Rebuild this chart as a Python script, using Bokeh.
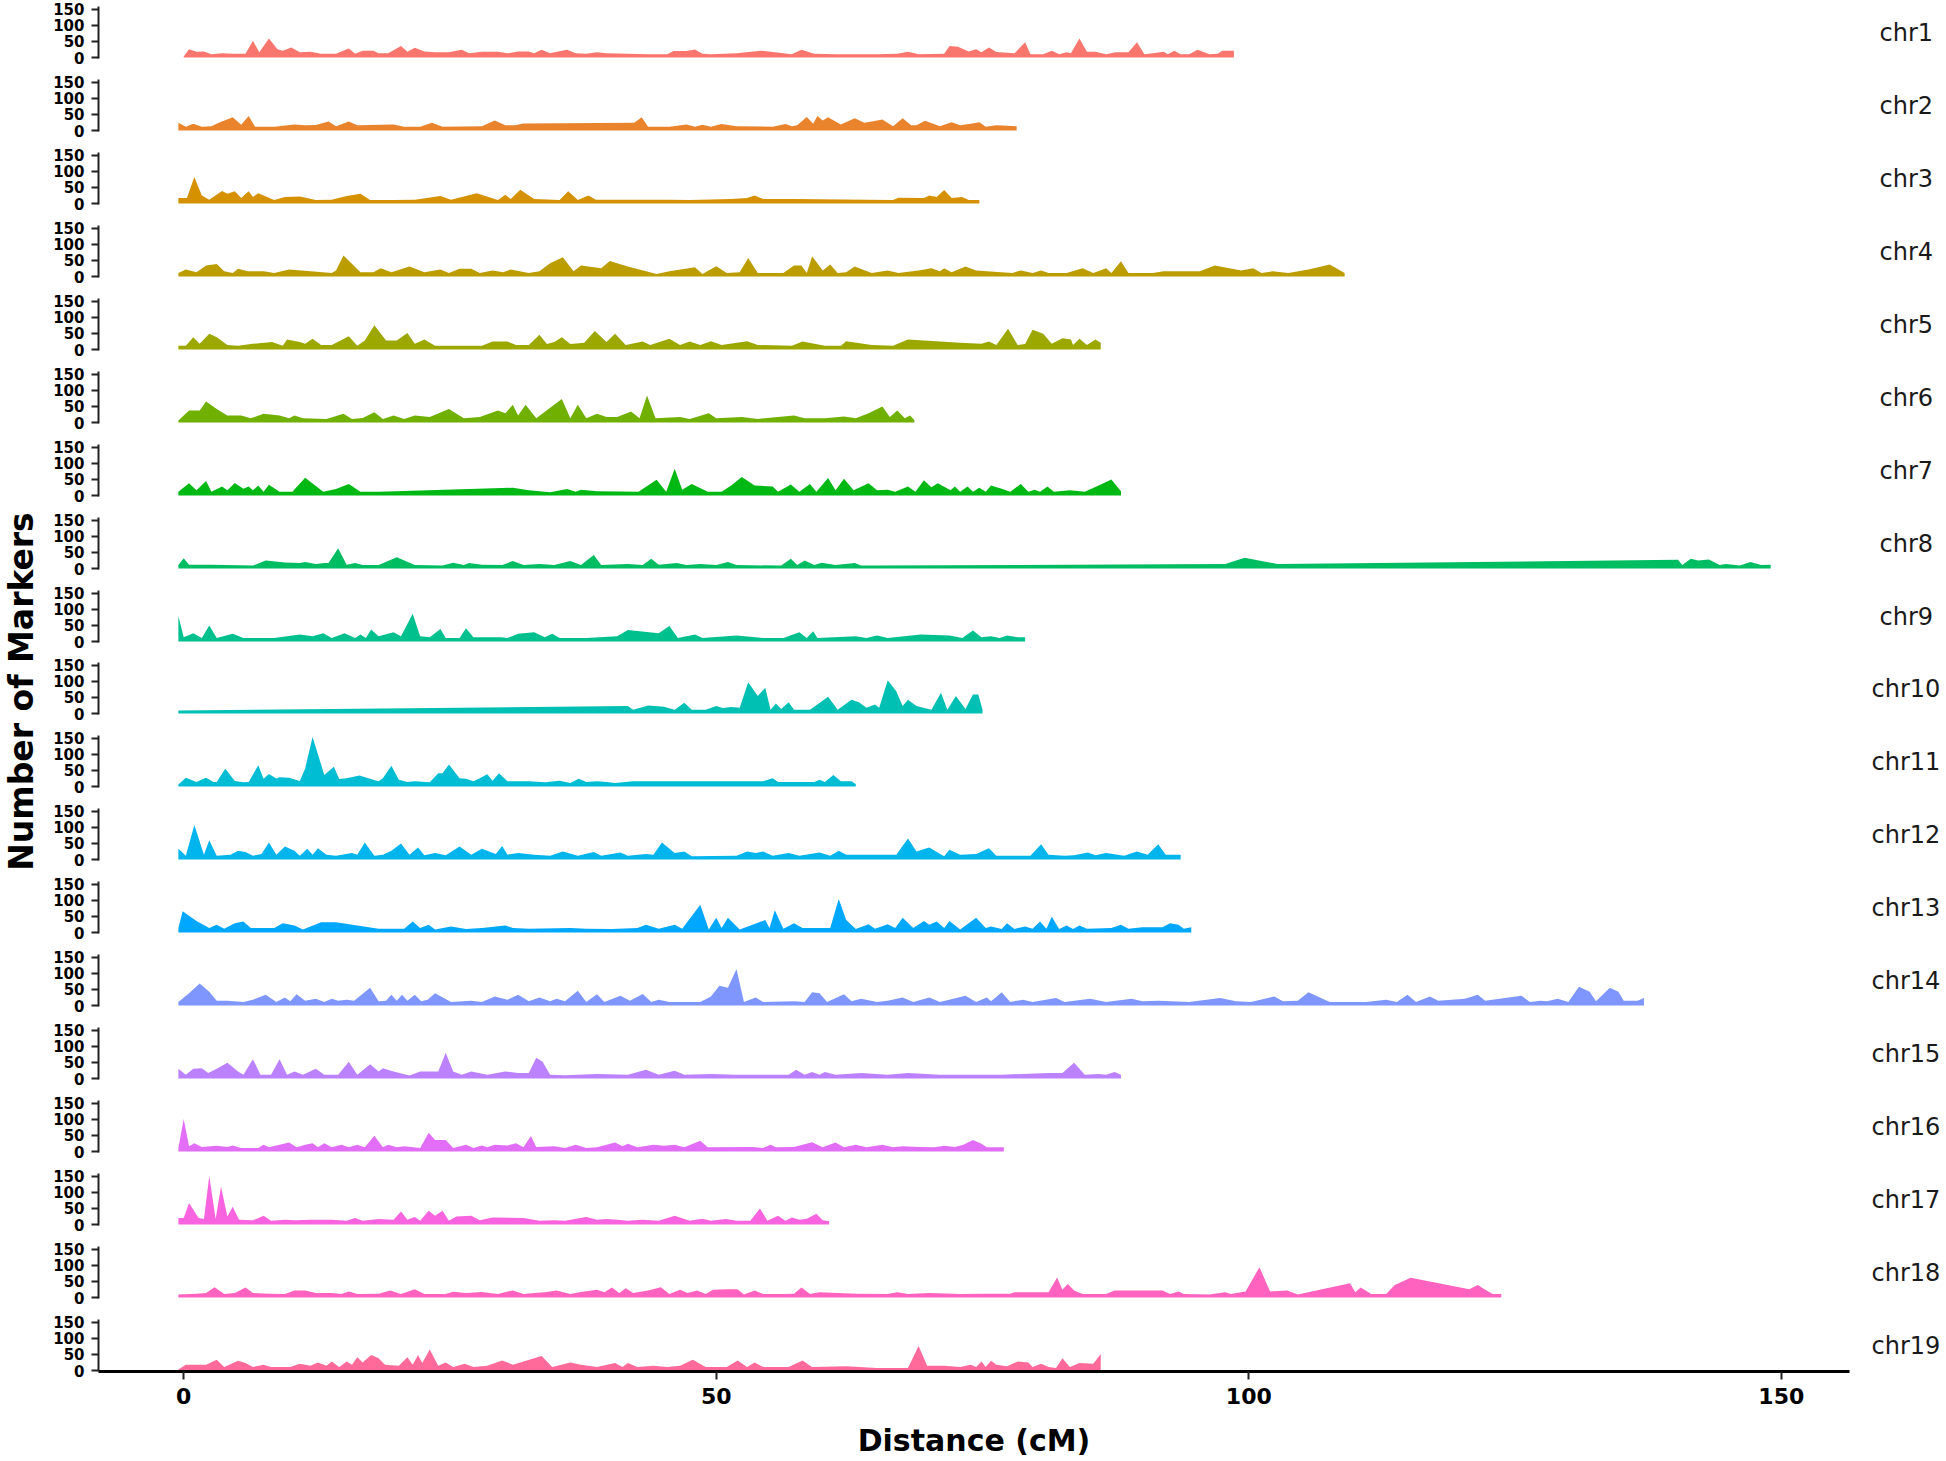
import math
from bokeh.plotting import figure
from bokeh.models import Range1d, FixedTicker, LinearAxis
from bokeh.layouts import column, row
from bokeh.embed import file_html
from bokeh.resources import INLINE
from bokeh.core.properties import value

chromosomes = [f"chr{i}" for i in range(1, 20)]
y_ticks = [0, 50, 100, 150]
x_ticks = [0, 50, 100, 150]
x_title = "Distance (cM)"
y_title = "Number of Markers"

# (distance cM, number of markers)
chr1 = [(0.0,3),(0.5,26),(1.2,18),(1.9,19),(2.6,10),(3.6,13),(4.6,12),(5.8,12),(6.5,52),(7.1,16),(8.0,59),(8.8,26),(9.3,21),(10.1,31),(10.9,16),(11.9,18),(12.9,12),(14.3,12),(15.5,28),(16.1,12),(16.8,21),(17.8,21),(18.3,13),(19.2,13),(20.4,36),(21.0,18),(21.7,30),(22.6,19),(23.6,16),(24.9,16),(26.1,24),(26.8,13),(28.0,18),(29.5,18),(30.4,13),(31.4,19),(32.4,19),(32.9,13),(33.6,24),(34.4,13),(34.8,16),(36.0,24),(36.8,13),(37.8,12),(38.8,16),(39.7,13),(41.7,12),(43.6,10),(45.4,10),(46.0,20),(47.2,20),(48.0,25),(48.7,12),(49.5,10),(51.9,13),(54.2,21),(56.3,13),(57.1,10),(58.0,24),(59.2,12),(61.2,10),(65.1,10),(67.0,12),(68.0,18),(69.0,10),(71.4,12),(71.9,36),(72.7,33),(73.7,19),(74.4,26),(74.9,16),(75.6,31),(76.3,17),(78.0,13),(79.0,47),(79.5,10),(80.7,10),(81.5,21),(82.2,10),(82.9,16),(83.3,13),(84.1,59),(84.8,18),(85.6,18),(86.6,10),(87.5,16),(88.7,16),(89.5,47),(90.2,10),(91.0,13),(92.0,18),(92.4,10),(93.0,21),(93.6,10),(94.4,10),(95.2,24),(96.3,10),(97.1,12),(97.5,21),(98.6,21)]
chr2 = [(-0.5,24),(0.2,12),(0.9,21),(1.7,12),(2.6,13),(3.4,26),(4.6,41),(5.4,18),(6.1,45),(6.7,12),(8.5,12),(10.4,19),(11.4,16),(12.4,17),(13.6,28),(14.3,13),(15.5,28),(16.3,16),(19.7,19),(20.7,12),(22.2,12),(23.3,24),(24.3,12),(28.0,13),(29.2,31),(30.2,16),(31.1,16),(31.9,22),(42.3,24),(43.0,41),(43.6,12),(45.6,12),(47.2,19),(48.0,12),(48.7,18),(49.5,12),(50.5,20),(51.9,13),(55.3,12),(56.5,20),(57.1,13),(57.6,16),(58.5,42),(59.1,21),(59.5,45),(60.0,31),(60.5,41),(61.7,19),(63.0,38),(63.9,24),(64.6,28),(65.6,34),(66.6,13),(67.5,38),(68.3,16),(68.8,16),(69.6,30),(71.0,13),(72.1,26),(72.9,16),(73.9,21),(74.7,26),(75.3,12),(76.3,16),(78.2,13)]
chr3 = [(-0.5,17),(0.3,17),(1.0,82),(1.7,25),(2.4,12),(3.6,39),(4.1,30),(4.8,38),(5.4,17),(6.1,38),(6.5,20),(7.0,32),(8.5,11),(9.5,20),(10.9,22),(12.4,11),(13.9,12),(15.3,23),(16.6,30),(17.5,11),(19.7,11),(21.7,12),(24.1,23),(25.1,12),(27.5,32),(29.5,11),(30.2,27),(30.7,14),(31.6,43),(32.9,14),(35.3,11),(36.1,38),(37.0,11),(38.0,25),(38.7,12),(45.6,12),(47.5,11),(51.4,14),(52.9,17),(53.6,25),(54.4,14),(57.3,14),(66.6,11),(67.1,18),(69.5,17),(70.0,25),(70.7,20),(71.4,42),(72.1,17),(73.1,20),(73.7,11),(74.7,11)]
chr4 = [(-0.5,11),(0.2,22),(1.2,13),(2.1,34),(3.1,39),(3.8,16),(4.6,11),(5.1,24),(6.0,16),(7.5,16),(8.5,11),(9.9,22),(11.9,16),(13.9,11),(14.3,19),(15.0,65),(16.6,13),(17.8,13),(18.5,26),(19.5,13),(21.2,31),(22.6,13),(24.1,22),(24.9,11),(25.9,24),(27.0,24),(27.8,11),(29.0,19),(30.0,13),(30.7,22),(32.4,11),(33.4,16),(34.4,41),(35.6,60),(36.6,16),(37.3,34),(39.2,26),(40.0,48),(41.7,31),(44.4,8),(45.6,16),(48.0,29),(48.7,8),(50.0,32),(51.0,11),(52.2,13),(53.0,57),(53.9,11),(56.3,11),(57.3,34),(58.0,34),(58.5,11),(59.0,63),(60.0,19),(60.7,37),(61.4,11),(62.2,13),(63.0,31),(64.6,11),(66.1,19),(67.1,11),(69.0,19),(70.2,26),(71.0,16),(71.4,26),(72.1,13),(73.4,31),(74.4,19),(77.8,11),(78.6,19),(79.7,11),(80.5,19),(81.2,11),(82.9,11),(84.4,26),(85.4,11),(86.6,26),(87.1,11),(88.0,47),(88.7,11),(91.0,11),(92.0,16),(95.4,16),(96.8,34),(99.3,19),(100.4,26),(101.2,11),(102.2,16),(103.7,11),(105.6,22),(107.6,37),(109.0,11)]
chr5 = [(-0.5,12),(0.2,12),(0.9,38),(1.5,18),(2.4,49),(3.1,38),(4.1,14),(5.1,12),(6.5,18),(8.3,23),(9.3,12),(9.7,31),(10.9,23),(11.4,18),(12.1,33),(12.9,14),(13.9,14),(15.5,41),(16.3,12),(17.0,28),(17.9,75),(19.0,28),(20.0,28),(21.0,51),(21.7,18),(22.6,31),(23.6,12),(28.0,12),(29.0,25),(30.4,25),(31.2,14),(32.4,14),(33.4,46),(34.1,17),(34.8,23),(35.5,38),(36.3,17),(37.6,21),(38.6,57),(39.7,23),(40.5,49),(41.5,14),(43.1,25),(43.8,14),(45.6,33),(46.6,14),(47.5,25),(48.5,14),(49.5,26),(50.5,14),(52.9,26),(53.9,14),(57.1,12),(58.1,25),(60.2,12),(61.7,12),(62.2,26),(64.6,14),(66.6,12),(68.0,31),(72.9,21),(74.9,18),(75.6,25),(76.3,14),(77.4,64),(78.3,14),(79.0,17),(79.7,61),(80.7,49),(81.5,18),(82.5,35),(83.3,31),(83.5,14),(84.1,33),(84.8,14),(85.6,31),(86.1,21)]
chr6 = [(-0.5,6),(0.5,37),(1.5,37),(2.1,65),(3.1,42),(4.1,22),(5.4,22),(6.3,13),(7.5,27),(9.0,22),(9.9,13),(10.4,22),(11.2,13),(13.4,11),(15.0,27),(15.8,11),(16.8,14),(17.9,32),(18.7,11),(19.7,22),(20.7,11),(21.7,22),(23.1,17),(24.9,42),(26.3,13),(27.8,17),(29.5,37),(30.2,29),(30.9,55),(31.4,22),(32.1,55),(33.1,13),(35.5,73),(36.3,13),(37.0,55),(37.8,13),(38.8,27),(39.7,17),(40.7,17),(42.0,34),(42.8,13),(43.5,84),(44.3,13),(46.6,17),(47.5,11),(49.3,29),(50.0,13),(52.4,17),(53.9,11),(57.3,22),(58.3,13),(60.2,13),(62.0,19),(63.1,13),(64.3,29),(65.6,50),(66.3,17),(67.0,37),(67.7,13),(68.2,22),(68.6,8)]
chr7 = [(-0.5,12),(0.5,38),(1.2,16),(2.1,45),(2.6,12),(3.6,28),(4.1,16),(4.8,39),(5.6,21),(6.1,28),(6.5,16),(7.0,31),(7.5,12),(8.0,33),(9.0,12),(10.2,12),(11.4,55),(13.1,12),(14.3,20),(15.5,36),(16.6,12),(18.3,12),(30.9,24),(32.4,16),(34.4,10),(36.0,20),(36.8,12),(37.3,18),(38.8,13),(42.7,12),(44.4,49),(45.3,12),(46.1,83),(46.8,18),(47.7,36),(49.2,12),(50.5,12),(51.4,31),(52.4,57),(53.6,31),(55.3,28),(55.8,12),(57.0,34),(57.8,12),(58.8,36),(59.4,12),(60.5,54),(61.2,16),(62.0,52),(62.9,16),(64.3,38),(65.1,16),(66.1,18),(66.8,12),(68.0,28),(68.7,12),(69.5,47),(70.2,26),(70.8,38),(72.0,16),(72.4,28),(72.9,12),(73.6,28),(74.1,12),(74.7,24),(75.3,12),(75.8,31),(76.8,21),(77.6,12),(78.6,36),(79.3,12),(79.9,18),(80.4,12),(81.1,28),(81.7,12),(83.2,16),(84.6,12),(85.9,31),(87.1,50),(88.0,13)]
chr8 = [(-0.5,11),(0.0,32),(0.5,12),(2.6,12),(6.5,9),(7.7,25),(9.5,19),(10.9,17),(11.4,20),(12.4,14),(13.2,17),(13.6,17),(14.5,63),(15.3,12),(16.1,17),(16.8,11),(18.3,11),(20.0,35),(21.7,11),(24.3,9),(25.3,18),(26.3,11),(26.8,17),(28.0,12),(29.9,11),(30.9,23),(31.9,11),(33.4,14),(34.8,11),(36.3,23),(37.3,11),(38.5,42),(39.2,11),(41.7,14),(43.1,11),(43.9,30),(44.6,12),(46.3,17),(47.2,11),(48.5,14),(50.0,11),(51.1,20),(51.9,11),(56.1,9),(57.0,30),(57.6,11),(58.3,25),(59.2,11),(59.9,18),(61.2,11),(63.0,17),(63.6,9),(65.1,9),(97.8,14),(99.6,33),(102.7,14),(140.3,27),(140.7,11),(141.5,30),(142.2,25),(143.2,28),(144.2,11),(144.8,14),(146.1,9),(147.1,20),(148.1,11),(149.0,12)]
chr9 = [(-0.5,79),(0.0,13),(0.9,26),(1.7,11),(2.4,50),(3.1,11),(4.6,24),(5.6,11),(8.5,11),(10.9,22),(12.1,16),(13.1,26),(13.9,11),(15.1,26),(16.1,11),(16.6,22),(17.1,11),(17.6,37),(18.3,16),(19.7,29),(20.4,16),(21.5,86),(22.2,16),(23.1,13),(24.1,39),(24.6,11),(25.9,11),(26.5,41),(27.2,13),(29.8,13),(30.4,11),(31.4,24),(32.9,29),(33.9,13),(34.6,24),(35.3,11),(37.8,11),(40.7,16),(41.7,36),(44.6,26),(45.6,48),(46.4,11),(48.0,22),(48.7,11),(51.9,19),(54.4,11),(56.3,11),(57.8,29),(58.5,11),(59.1,32),(59.5,11),(63.1,16),(64.1,11),(65.1,19),(66.1,11),(69.2,22),(71.9,19),(73.1,11),(74.1,34),(74.9,13),(75.8,16),(76.6,11),(77.3,19),(78.3,13),(79.0,13)]
chr10 = [(-0.5,9),(41.7,23),(42.2,12),(43.6,25),(45.1,21),(46.1,12),(47.0,33),(47.7,12),(49.0,12),(50.0,23),(50.6,17),(51.4,20),(52.2,18),(53.0,97),(53.9,54),(54.6,80),(55.1,12),(55.6,31),(56.1,14),(56.8,35),(57.3,12),(58.8,12),(60.5,52),(61.4,12),(62.7,43),(63.4,35),(64.1,18),(64.9,28),(65.3,18),(66.1,103),(66.9,69),(67.5,23),(68.0,43),(68.8,23),(70.2,12),(71.1,64),(71.7,12),(72.5,54),(73.4,14),(74.1,59),(74.6,59),(75.0,12)]
chr11 = [(-0.5,6),(0.2,27),(1.2,14),(2.1,27),(2.8,14),(3.1,14),(3.9,55),(4.8,17),(5.6,13),(6.1,14),(7.0,66),(7.5,24),(8.0,39),(8.7,25),(9.0,29),(9.9,27),(10.9,17),(11.4,56),(12.1,153),(13.2,36),(14.1,61),(14.6,23),(15.3,26),(16.5,34),(17.8,21),(18.3,16),(18.7,26),(19.5,64),(20.2,21),(21.0,14),(21.7,16),(23.1,13),(23.9,41),(24.3,41),(24.9,68),(25.9,26),(26.5,24),(27.2,16),(27.8,26),(28.5,38),(29.0,18),(29.6,41),(30.4,16),(32.4,16),(33.9,13),(35.3,18),(36.3,11),(37.1,24),(37.8,14),(38.8,16),(39.7,14),(40.5,11),(42.2,16),(54.4,16),(55.3,26),(55.8,14),(59.2,14),(59.7,21),(60.2,14),(61.0,36),(61.7,16),(62.7,16),(63.1,8)]
chr12 = [(-0.5,33),(0.2,12),(1.0,107),(1.9,15),(2.4,60),(3.1,12),(4.4,15),(5.1,27),(5.8,23),(6.5,12),(7.3,17),(8.0,53),(8.7,15),(9.5,40),(10.4,27),(10.9,12),(11.6,33),(12.1,15),(12.6,35),(13.4,15),(14.3,12),(15.8,20),(16.3,15),(17.0,53),(17.9,12),(18.7,15),(19.5,27),(20.4,50),(21.2,15),(22.0,37),(22.6,13),(23.6,20),(24.6,13),(25.9,40),(27.0,15),(28.0,33),(29.3,17),(29.9,42),(30.4,15),(31.4,20),(32.9,15),(34.4,12),(35.6,25),(37.0,12),(38.5,23),(39.2,12),(41.0,22),(41.7,12),(43.4,17),(44.1,15),(44.9,53),(46.1,20),(47.0,25),(47.7,10),(51.9,12),(52.9,25),(53.7,20),(54.4,25),(55.3,12),(56.8,20),(57.8,12),(59.7,22),(60.7,12),(61.5,27),(62.2,15),(66.1,15),(66.9,15),(68.0,65),(68.8,25),(70.0,37),(71.4,10),(71.9,30),(72.9,15),(74.4,17),(75.6,35),(76.3,12),(79.5,12),(80.5,47),(81.2,15),(82.7,12),(83.6,13),(84.9,22),(85.6,13),(86.6,20),(88.3,12),(89.5,25),(90.5,15),(91.5,47),(92.2,15),(93.6,15)]
chr13 = [(-0.5,14),(-0.1,66),(1.2,36),(2.4,14),(3.1,24),(3.8,12),(4.8,29),(5.6,34),(6.3,14),(8.5,14),(9.3,29),(10.4,22),(11.2,9),(12.9,32),(14.3,32),(18.3,12),(20.7,12),(21.5,34),(22.2,14),(23.0,24),(23.6,9),(25.1,19),(26.5,11),(28.0,14),(30.2,22),(30.9,14),(32.4,12),(36.3,14),(37.8,12),(40.2,11),(42.6,14),(43.4,24),(44.6,12),(46.1,24),(46.8,12),(48.5,86),(49.3,9),(50.0,46),(50.5,14),(51.1,46),(52.2,9),(54.6,39),(55.0,14),(55.5,69),(56.3,12),(57.3,29),(58.1,14),(59.2,14),(60.7,14),(61.5,104),(62.2,39),(63.1,11),(64.3,26),(64.9,12),(66.1,26),(66.8,14),(67.5,46),(68.5,14),(69.5,36),(70.0,24),(70.7,34),(71.4,14),(71.9,36),(72.9,9),(74.4,46),(75.3,14),(75.8,19),(76.8,11),(77.3,29),(78.0,11),(79.0,19),(79.7,12),(80.4,34),(81.0,12),(81.5,49),(82.2,11),(82.9,22),(83.5,11),(84.1,22),(84.8,12),(87.1,14),(88.0,24),(88.7,12),(90.0,16),(91.9,16),(92.6,29),(93.4,24),(93.9,12),(94.6,16)]
chr14 = [(-0.5,11),(0.5,38),(1.5,68),(2.4,43),(3.1,15),(4.1,15),(5.6,11),(6.5,18),(7.7,33),(8.7,11),(9.5,25),(10.0,13),(10.6,35),(11.4,15),(12.4,21),(13.2,11),(13.9,21),(14.5,15),(15.3,18),(16.0,15),(17.5,55),(18.3,13),(19.0,15),(19.5,33),(20.0,15),(20.5,33),(21.0,15),(21.7,33),(22.3,13),(22.9,18),(23.6,38),(25.1,11),(27.0,15),(28.0,11),(29.2,28),(30.4,18),(31.4,33),(32.4,13),(33.4,25),(34.4,13),(35.0,21),(35.8,13),(37.0,46),(37.8,11),(38.8,35),(39.5,11),(41.0,30),(41.9,15),(43.1,36),(43.9,11),(44.6,18),(45.6,11),(48.5,11),(49.5,28),(50.3,61),(51.1,55),(51.9,113),(52.6,11),(53.7,25),(54.4,11),(57.3,13),(58.3,11),(59.0,41),(59.7,38),(60.4,11),(62.0,35),(62.7,13),(63.6,21),(65.1,11),(66.1,15),(67.5,25),(68.5,11),(70.0,25),(71.0,11),(73.4,30),(74.4,11),(75.4,25),(75.8,13),(76.8,41),(77.6,11),(78.8,18),(79.7,11),(81.9,23),(82.7,11),(85.1,21),(86.6,11),(89.0,21),(90.0,13),(91.5,15),(94.4,11),(97.3,23),(98.8,13),(100.2,11),(102.4,28),(103.2,13),(104.6,15),(105.6,41),(107.6,11),(111.0,11),(112.9,18),(113.9,11),(114.9,33),(115.7,11),(117.0,28),(117.8,15),(120.3,21),(121.5,33),(122.2,15),(125.6,30),(126.4,11),(127.4,15),(128.0,13),(129.0,21),(130.0,11),(131.0,58),(132.0,43),(132.6,13),(133.9,55),(134.7,43),(135.2,15),(136.5,15),(137.1,23)]
chr15 = [(-0.5,30),(0.2,12),(0.9,30),(1.7,32),(2.3,17),(3.1,30),(4.1,49),(5.1,22),(5.6,12),(6.5,60),(7.2,12),(8.2,12),(9.0,60),(9.7,12),(10.4,22),(11.2,12),(12.4,30),(13.2,12),(14.5,12),(15.5,52),(16.3,12),(17.5,44),(18.3,22),(18.7,32),(19.7,22),(21.2,9),(22.2,22),(23.9,22),(24.6,80),(25.3,22),(26.1,12),(27.0,22),(28.5,12),(30.2,22),(31.4,17),(32.4,17),(33.1,64),(33.7,52),(34.4,12),(35.8,10),(38.8,14),(41.7,12),(43.4,27),(44.6,12),(46.1,24),(47.0,12),(49.5,14),(51.9,12),(56.8,12),(57.5,27),(58.3,12),(59.0,20),(59.7,12),(60.2,20),(61.2,12),(63.6,17),(66.1,12),(68.0,17),(71.0,12),(76.8,12),(81.2,17),(82.5,17),(83.6,49),(84.6,12),(85.9,14),(86.6,12),(87.4,20),(88.0,12)]
chr16 = [(-0.5,11),(0.0,101),(0.5,16),(1.0,26),(1.7,14),(3.1,18),(4.1,14),(4.6,19),(5.4,11),(7.0,11),(7.5,21),(8.0,13),(9.0,21),(9.9,28),(10.6,13),(11.4,21),(12.1,26),(12.6,13),(13.2,26),(13.9,13),(14.8,21),(15.5,13),(16.3,21),(17.0,13),(17.9,49),(18.7,13),(19.2,21),(20.0,13),(20.7,16),(22.2,11),(23.0,58),(23.6,36),(24.6,36),(25.3,11),(26.5,21),(27.2,11),(28.0,19),(28.5,13),(29.2,21),(30.4,19),(31.2,26),(31.9,13),(32.6,48),(33.1,14),(34.8,16),(35.8,11),(36.8,21),(37.8,11),(38.8,13),(40.5,28),(41.2,16),(41.7,24),(42.6,13),(44.1,21),(45.1,18),(46.1,21),(47.0,13),(48.5,33),(49.2,13),(53.4,14),(54.4,11),(55.1,21),(55.6,13),(57.3,14),(59.0,29),(60.0,13),(61.2,28),(62.0,13),(63.1,21),(64.1,13),(65.6,21),(66.6,13),(67.5,16),(69.0,14),(70.5,13),(71.4,18),(72.4,14),(73.2,21),(74.1,36),(74.9,24),(75.4,13),(77.0,13)]
chr17 = [(-0.5,20),(0.0,20),(0.5,67),(1.4,20),(1.9,17),(2.4,150),(3.0,17),(3.5,117),(4.1,25),(4.6,55),(5.2,15),(6.5,13),(7.5,27),(8.2,12),(9.5,15),(10.4,13),(11.9,15),(13.9,15),(15.3,12),(16.1,20),(16.8,12),(18.3,17),(19.7,15),(20.4,40),(21.0,15),(21.7,23),(22.2,12),(23.0,43),(23.6,27),(24.3,43),(24.9,12),(25.6,25),(27.0,27),(27.8,13),(29.0,22),(31.9,20),(33.4,12),(34.8,13),(35.8,12),(37.8,23),(38.8,15),(39.7,17),(40.7,15),(41.7,12),(43.1,15),(44.6,12),(46.1,27),(47.5,12),(48.7,18),(49.5,12),(50.9,17),(51.9,12),(53.2,12),(54.1,50),(54.8,12),(55.8,27),(56.5,12),(57.1,22),(57.8,15),(58.5,18),(59.4,33),(60.0,13),(60.6,10)]
chr18 = [(-0.5,9),(1.2,12),(2.1,14),(2.9,32),(3.8,11),(4.8,14),(5.8,31),(6.5,14),(8.0,12),(9.5,11),(10.4,22),(11.4,22),(12.4,14),(13.9,14),(14.8,11),(15.5,19),(16.3,11),(18.3,12),(19.4,22),(20.4,11),(21.7,26),(22.6,11),(24.6,11),(25.3,18),(26.5,14),(28.0,17),(29.5,11),(30.9,22),(31.9,11),(32.9,14),(33.9,16),(35.0,22),(36.3,11),(37.3,17),(38.8,24),(39.5,16),(40.2,31),(40.9,14),(41.5,29),(42.2,14),(43.6,22),(44.8,32),(45.6,11),(46.6,24),(47.3,14),(48.2,22),(49.0,11),(49.7,24),(51.0,26),(52.0,26),(52.6,9),(53.6,22),(54.4,11),(56.3,11),(57.3,12),(58.0,31),(58.8,11),(59.7,16),(63.1,12),(66.1,11),(67.0,16),(68.0,11),(70.0,14),(72.9,11),(74.9,12),(77.6,12),(78.0,16),(81.2,16),(82.0,62),(82.5,24),(83.0,42),(83.6,22),(84.4,11),(86.6,11),(87.4,22),(91.9,22),(92.6,11),(93.4,19),(93.9,11),(96.3,9),(97.8,16),(98.3,11),(99.7,19),(101.0,94),(102.0,19),(103.6,22),(104.6,9),(109.5,44),(110.0,16),(110.5,31),(111.5,11),(112.9,11),(113.7,39),(115.2,61),(120.7,26),(121.5,39),(122.2,24),(122.9,11),(123.7,11)]
chr19 = [(-0.5,3),(0.2,18),(2.1,18),(3.1,33),(3.8,11),(5.1,30),(5.8,23),(6.5,11),(7.5,18),(8.2,11),(10.0,11),(10.9,21),(11.9,15),(12.6,25),(13.4,15),(13.9,28),(14.6,11),(15.3,28),(15.8,18),(16.3,41),(16.8,25),(17.6,48),(18.3,38),(18.9,18),(20.2,15),(21.0,41),(21.5,18),(22.0,48),(22.4,23),(23.1,65),(23.9,15),(24.6,25),(25.3,11),(26.4,21),(27.2,11),(28.5,15),(29.9,31),(30.9,18),(33.6,45),(34.6,11),(36.3,25),(37.3,18),(38.8,11),(40.5,23),(41.2,11),(41.7,23),(42.6,11),(44.1,15),(45.4,11),(46.6,15),(47.8,33),(49.0,11),(51.0,11),(52.0,31),(52.9,11),(53.6,25),(54.4,11),(56.8,11),(58.1,31),(59.0,11),(62.2,13),(65.1,8),(68.0,8),(69.0,76),(69.8,15),(71.4,15),(72.9,11),(73.9,18),(74.4,11),(74.9,28),(75.3,11),(75.8,30),(76.3,18),(77.3,13),(78.3,28),(79.3,25),(79.7,11),(80.5,21),(81.2,11),(81.9,8),(82.5,38),(83.2,11),(84.1,23),(85.4,21),(86.1,51)]

series = [chr1, chr2, chr3, chr4, chr5, chr6, chr7, chr8, chr9, chr10,
          chr11, chr12, chr13, chr14, chr15, chr16, chr17, chr18, chr19]


def hcl_hex(h, c=100.0, l=65.0):
    XN, YN, ZN = 95.047, 100.0, 108.883
    hr = math.radians(h)
    U, V = c * math.cos(hr), c * math.sin(hr)
    Y = YN * ((l + 16) / 116) ** 3
    t = XN + YN + ZN
    x, y = XN / t, YN / t
    uN = 2 * x / (6 * y - x + 1.5)
    vN = 4.5 * y / (6 * y - x + 1.5)
    u = U / (13 * l) + uN
    v = V / (13 * l) + vN
    X = 9.0 * Y * u / (4 * v)
    Z = -X / 3 - 5 * Y + 3 * Y / v
    rgb = [(3.240479 * X - 1.537150 * Y - 0.498535 * Z) / YN,
           (-0.969256 * X + 1.875992 * Y + 0.041556 * Z) / YN,
           (0.055648 * X - 0.204043 * Y + 1.057311 * Z) / YN]
    out = []
    for ch in rgb:
        ch = 1.055 * ch ** (1 / 2.4) - 0.055 if ch > 0.0031308 else 12.92 * ch
        out.append(int(round(max(0.0, min(1.0, ch)) * 255)))
    return "#%02X%02X%02X" % tuple(out)


n = len(chromosomes)
colors = [hcl_hex(15 + i * 360.0 / n) for i in range(n)]

X_START, X_END = -8.0, 156.4
Y_START, Y_END = -3, 158
FRAME_W, FRAME_H = 1751, 52
TOP = 6
LAST_BOTTOM = 89
AXIS_COL = "#222222"
FONT = "DejaVu Sans"

frame_tops = [TOP + round(k * 72.94) for k in range(n)]
x_range = Range1d(X_START, X_END)

panels = []
for k, (name, data, col) in enumerate(zip(chromosomes, series, colors)):
    last = (k == n - 1)
    bottom = LAST_BOTTOM if last else (frame_tops[k + 1] - frame_tops[k]) - FRAME_H - TOP
    p = figure(frame_width=FRAME_W, frame_height=FRAME_H,
               x_range=x_range, y_range=Range1d(Y_START, Y_END),
               output_backend="svg", toolbar_location=None,
               x_axis_location="below" if last else None,
               min_border_left=50, min_border_right=88,
               min_border_top=TOP, min_border_bottom=bottom,
               outline_line_color=None, background_fill_color="white")
    p.grid.visible = False
    xs = [d[0] for d in data]
    ys = [d[1] for d in data]
    p.varea(x=xs, y1=[0] * len(xs), y2=ys, fill_color=col, fill_alpha=1.0)

    ya = p.yaxis[0]
    ya.ticker = FixedTicker(ticks=y_ticks)
    ya.axis_line_color = AXIS_COL
    ya.axis_line_width = 2
    ya.major_tick_line_color = AXIS_COL
    ya.major_tick_line_width = 2
    ya.major_tick_out = 7
    ya.major_tick_in = 0
    ya.minor_tick_line_color = None
    ya.major_label_standoff = 7
    ya.major_label_text_font = FONT
    ya.major_label_text_font_style = "bold"
    ya.major_label_text_font_size = "15px"
    ya.major_label_text_color = "black"

    # facet strip label on the right
    strip = LinearAxis(ticker=FixedTicker(ticks=[75]),
                       major_label_overrides={75: name},
                       axis_line_color=None, major_tick_line_color=None,
                       minor_tick_line_color=None,
                       major_label_standoff=24 if len(name) == 4 else 16,
                       major_label_text_font=FONT,
                       major_label_text_font_size="24px",
                       major_label_text_color="#1a1a1a")
    p.add_layout(strip, "right")

    if last:
        xa = p.xaxis[0]
        xa.ticker = FixedTicker(ticks=x_ticks)
        xa.axis_line_color = "black"
        xa.axis_line_width = 3
        xa.major_tick_line_color = AXIS_COL
        xa.major_tick_line_width = 2
        xa.major_tick_out = 8
        xa.major_tick_in = 0
        xa.minor_tick_line_color = None
        xa.major_label_standoff = 8
        xa.major_label_text_font = FONT
        xa.major_label_text_font_style = "bold"
        xa.major_label_text_font_size = "22px"
        xa.major_label_text_color = "black"
        xa.axis_label = x_title
        xa.axis_label_standoff = 16
        xa.axis_label_text_font = FONT
        xa.axis_label_text_font_style = "bold"
        xa.axis_label_text_font_size = "30px"
        xa.axis_label_text_color = "black"
    panels.append(p)

total_h = (frame_tops[-1] - frame_tops[0]) + TOP + FRAME_H + LAST_BOTTOM
ylab = figure(frame_width=48, frame_height=total_h, x_range=(0, 48), y_range=(0, total_h),
              output_backend="svg", toolbar_location=None,
              x_axis_location=None, y_axis_location=None,
              min_border_left=0, min_border_right=0, min_border_top=0, min_border_bottom=0,
              outline_line_color=None)
ylab.grid.visible = False
ylab.text(x=[21], y=[total_h - 691], text=[y_title], angle=math.pi / 2,
          text_align="center", text_baseline="middle",
          text_font=value(FONT), text_font_style="bold", text_font_size="33px",
          text_color="black")

layout = row(ylab, column(*panels, spacing=0), spacing=0)
open("out.html", "w").write(file_html(layout, INLINE))
